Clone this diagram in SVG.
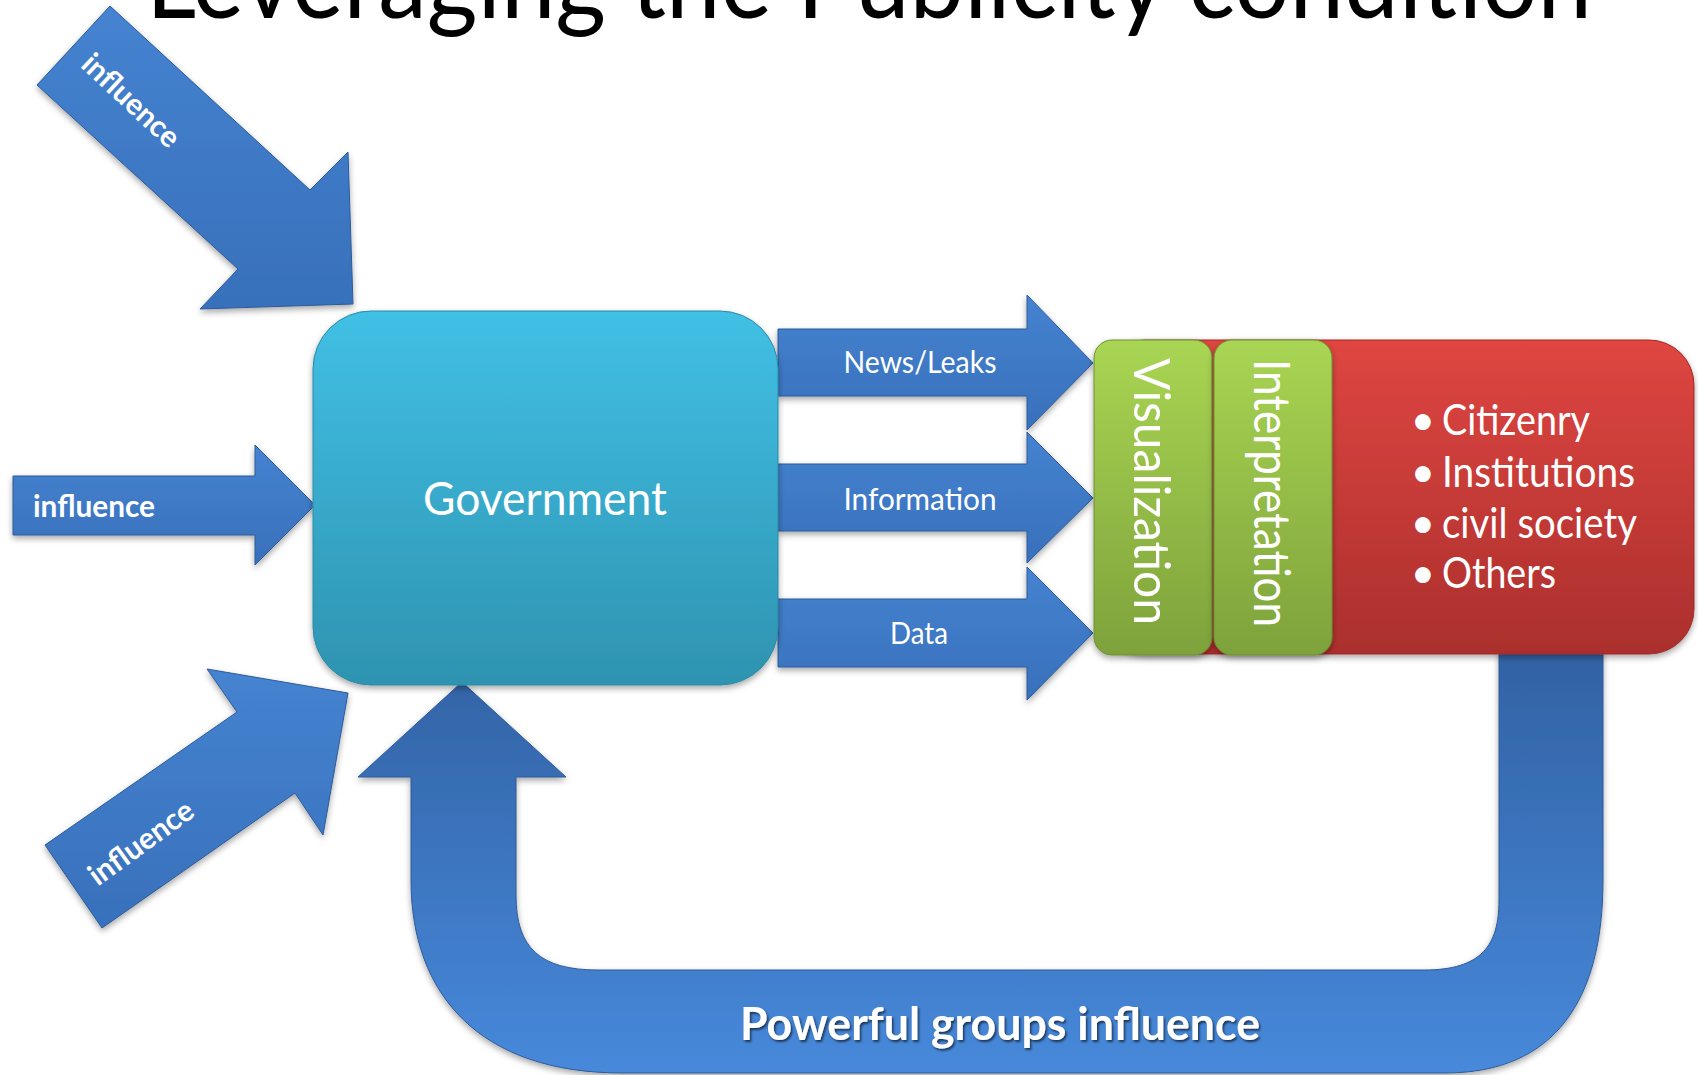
<svg xmlns="http://www.w3.org/2000/svg" width="1698" height="1075" viewBox="0 0 1698 1075">
  <defs>
    <style>
      .title { font-family: Lato, "Liberation Sans", sans-serif; font-size: 104px; fill: #000; }
      .lbl { font-family: Lato, "Liberation Sans", sans-serif; fill: #fff; }
      .infl { font-size: 30px; font-weight: bold; }
      .flow { font-size: 31px; }
      .big { font-size: 46px; }
      .vert { font-size: 50px; }
      .bul { font-size: 42px; }
      .arrow { fill: url(#gBlue); stroke: #2d5b98; stroke-width: 1; filter: url(#shadow); }
    </style>
    <linearGradient id="gBlue" x1="0" y1="0" x2="0" y2="1">
      <stop offset="0" stop-color="#4583d0"/>
      <stop offset="1" stop-color="#3870bb"/>
    </linearGradient>
    <linearGradient id="gU" gradientUnits="userSpaceOnUse" x1="0" y1="655" x2="0" y2="1075">
      <stop offset="0" stop-color="#3262a4"/>
      <stop offset="1" stop-color="#4789db"/>
    </linearGradient>
    <linearGradient id="gGov" x1="0" y1="0" x2="0" y2="1">
      <stop offset="0" stop-color="#41c0e5"/>
      <stop offset="1" stop-color="#2e93b0"/>
    </linearGradient>
    <linearGradient id="gGreen" x1="0" y1="0" x2="0" y2="1">
      <stop offset="0" stop-color="#a9d553"/>
      <stop offset="1" stop-color="#7ea23b"/>
    </linearGradient>
    <linearGradient id="gRed" x1="0" y1="0" x2="0" y2="1">
      <stop offset="0" stop-color="#df4641"/>
      <stop offset="1" stop-color="#ab2f2d"/>
    </linearGradient>
    <filter id="shadow" x="-10%" y="-10%" width="120%" height="125%">
      <feDropShadow dx="0" dy="3" stdDeviation="3" flood-color="#000" flood-opacity="0.35"/>
    </filter>
    <filter id="tshadow" x="-5%" y="-20%" width="110%" height="150%">
      <feDropShadow dx="1.5" dy="2" stdDeviation="1.2" flood-color="#000" flood-opacity="0.6"/>
    </filter>
  </defs>

  <rect x="0" y="0" width="1698" height="1075" fill="#fff"/>

  <g id="title">
    <text class="title" x="146" y="18" textLength="1446" lengthAdjust="spacingAndGlyphs">Leveraging the Publicity condition</text>
  </g>

  <g id="connectors">
    <g id="arrow-influence-top">
      <polygon class="arrow" points="37,85 110,6 310,190 348,152 353,304 200,309 238,269"/>
      <text class="lbl infl" transform="translate(124,108) rotate(43)" text-anchor="middle" textLength="122" lengthAdjust="spacingAndGlyphs">influence</text>
    </g>
    <g id="arrow-influence-mid">
      <polygon class="arrow" points="13,476 255,476 255,445 315,505 255,565 255,535 13,535"/>
      <text class="lbl infl" x="33" y="517" textLength="122" lengthAdjust="spacingAndGlyphs">influence</text>
    </g>
    <g id="arrow-influence-bottom">
      <polygon class="arrow" points="45,845 237,712 207,669 348,693 323,835 295,793 102,928"/>
      <text class="lbl infl" transform="translate(147,851) rotate(-36)" text-anchor="middle" textLength="122" lengthAdjust="spacingAndGlyphs">influence</text>
    </g>
    <g id="arrow-news">
      <polygon class="arrow" points="778,329 1027,329 1027,295 1093,363 1027,430 1027,396 778,396"/>
      <text class="lbl flow" x="920" y="373" text-anchor="middle" textLength="153" lengthAdjust="spacingAndGlyphs">News/Leaks</text>
    </g>
    <g id="arrow-information">
      <polygon class="arrow" points="778,464 1027,464 1027,432 1093,498 1027,563 1027,531 778,531"/>
      <text class="lbl flow" x="920" y="510" text-anchor="middle" textLength="153" lengthAdjust="spacingAndGlyphs">Information</text>
    </g>
    <g id="arrow-data">
      <polygon class="arrow" points="778,599 1027,599 1027,567 1093,633 1027,700 1027,667 778,667"/>
      <text class="lbl flow" x="919" y="644" text-anchor="middle" textLength="58" lengthAdjust="spacingAndGlyphs">Data</text>
    </g>
    <g id="arrow-feedback">
      <path d="M462,682 L566,777 L516,777 L516,895 C516,948 540,970 598,970 L1424,970 C1482,970 1499,945 1499,900 L1499,650 L1603,650 L1603,880 C1603,1000 1555,1073 1445,1073 L622,1073 C480,1073 411,995 411,880 L411,777 L358,777 Z" fill="url(#gU)" stroke="#2d5b98" stroke-width="1" filter="url(#shadow)"/>
      <text class="lbl big" x="1000" y="1040" text-anchor="middle" font-weight="bold" textLength="520" lengthAdjust="spacingAndGlyphs" filter="url(#tshadow)">Powerful groups influence</text>
    </g>
  </g>

  <g id="node-government">
    <rect x="313" y="311" width="465" height="374" rx="58" ry="58" fill="url(#gGov)" stroke="#2a8aa6" stroke-width="1" filter="url(#shadow)"/>
    <text class="lbl big" x="545" y="515" text-anchor="middle" textLength="244" lengthAdjust="spacingAndGlyphs">Government</text>
  </g>

  <g id="node-audience">
    <rect x="1100" y="340" width="594" height="314" rx="45" ry="45" fill="url(#gRed)" stroke="#a12b29" stroke-width="1" filter="url(#shadow)"/>
    <text class="lbl bul" x="1423" y="435" text-anchor="middle">•</text>
    <text class="lbl bul" x="1442" y="435" textLength="148" lengthAdjust="spacingAndGlyphs">Citizenry</text>
    <text class="lbl bul" x="1423" y="487" text-anchor="middle">•</text>
    <text class="lbl bul" x="1442" y="487" textLength="193" lengthAdjust="spacingAndGlyphs">Institutions</text>
    <text class="lbl bul" x="1423" y="538" text-anchor="middle">•</text>
    <text class="lbl bul" x="1442" y="538" textLength="195" lengthAdjust="spacingAndGlyphs">civil society</text>
    <text class="lbl bul" x="1423" y="588" text-anchor="middle">•</text>
    <text class="lbl bul" x="1442" y="588" textLength="114" lengthAdjust="spacingAndGlyphs">Others</text>
  </g>

  <g id="node-visualization">
    <rect x="1094" y="340" width="118" height="315" rx="18" ry="18" fill="url(#gGreen)" stroke="#6f8f33" stroke-width="1" filter="url(#shadow)"/>
    <text class="lbl vert" transform="translate(1134,358) rotate(90)" textLength="267" lengthAdjust="spacingAndGlyphs">Visualization</text>
  </g>

  <g id="node-interpretation">
    <rect x="1214" y="340" width="118" height="315" rx="18" ry="18" fill="url(#gGreen)" stroke="#6f8f33" stroke-width="1" filter="url(#shadow)"/>
    <text class="lbl vert" transform="translate(1254,359) rotate(90)" textLength="268" lengthAdjust="spacingAndGlyphs">Interpretation</text>
  </g>
</svg>
